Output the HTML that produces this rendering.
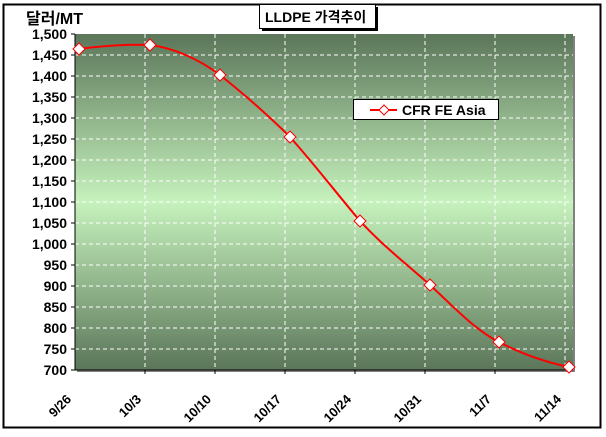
<!DOCTYPE html>
<html><head><meta charset="utf-8"><style>
body{margin:0;background:#fff;}
svg text{font-family:"Liberation Sans","Noto Sans CJK KR",sans-serif;font-weight:bold;}
</style></head><body>
<svg width="606" height="432" xmlns="http://www.w3.org/2000/svg">
<defs>
<linearGradient id="g" x1="0" y1="0" x2="0" y2="1">
<stop offset="0" stop-color="#5b7659"/>
<stop offset="0.5" stop-color="#c6f2bd"/>
<stop offset="1" stop-color="#5b7659"/>
</linearGradient>
</defs>
<rect x="3.5" y="4.5" width="597" height="423" fill="#fff" stroke="#000" stroke-width="2"/>
<rect x="77" y="36" width="498" height="336" fill="#808080"/>
<rect x="75" y="34" width="498" height="336" fill="url(#g)"/>
<g stroke="#fff" stroke-dasharray="4,3" stroke-width="1">
<line x1="75" x2="573" y1="55" y2="55"/><line x1="75" x2="573" y1="76" y2="76"/><line x1="75" x2="573" y1="97" y2="97"/><line x1="75" x2="573" y1="118" y2="118"/><line x1="75" x2="573" y1="139" y2="139"/><line x1="75" x2="573" y1="160" y2="160"/><line x1="75" x2="573" y1="181" y2="181"/><line x1="75" x2="573" y1="202" y2="202"/><line x1="75" x2="573" y1="223" y2="223"/><line x1="75" x2="573" y1="244" y2="244"/><line x1="75" x2="573" y1="265" y2="265"/><line x1="75" x2="573" y1="286" y2="286"/><line x1="75" x2="573" y1="307" y2="307"/><line x1="75" x2="573" y1="328" y2="328"/><line x1="75" x2="573" y1="349" y2="349"/>
<line y1="34" y2="370" x1="145" x2="145"/><line y1="34" y2="370" x1="215" x2="215"/><line y1="34" y2="370" x1="285" x2="285"/><line y1="34" y2="370" x1="355" x2="355"/><line y1="34" y2="370" x1="425" x2="425"/><line y1="34" y2="370" x1="495" x2="495"/><line y1="34" y2="370" x1="565" x2="565"/>
</g>
<g stroke="#000" stroke-width="1">
<line x1="75" y1="34" x2="75" y2="370"/><line x1="75" y1="370" x2="573" y2="370"/>
<line x1="71" x2="75" y1="34" y2="34"/><line x1="71" x2="75" y1="55" y2="55"/><line x1="71" x2="75" y1="76" y2="76"/><line x1="71" x2="75" y1="97" y2="97"/><line x1="71" x2="75" y1="118" y2="118"/><line x1="71" x2="75" y1="139" y2="139"/><line x1="71" x2="75" y1="160" y2="160"/><line x1="71" x2="75" y1="181" y2="181"/><line x1="71" x2="75" y1="202" y2="202"/><line x1="71" x2="75" y1="223" y2="223"/><line x1="71" x2="75" y1="244" y2="244"/><line x1="71" x2="75" y1="265" y2="265"/><line x1="71" x2="75" y1="286" y2="286"/><line x1="71" x2="75" y1="307" y2="307"/><line x1="71" x2="75" y1="328" y2="328"/><line x1="71" x2="75" y1="349" y2="349"/><line x1="71" x2="75" y1="370" y2="370"/>
<line y1="370" y2="374" x1="145" x2="145"/><line y1="370" y2="374" x1="215" x2="215"/><line y1="370" y2="374" x1="285" x2="285"/><line y1="370" y2="374" x1="355" x2="355"/><line y1="370" y2="374" x1="425" x2="425"/><line y1="370" y2="374" x1="495" x2="495"/>
</g>
<g font-size="14" text-anchor="end" fill="#000">
<text x="67" y="39">1,500</text><text x="67" y="60">1,450</text><text x="67" y="81">1,400</text><text x="67" y="102">1,350</text><text x="67" y="123">1,300</text><text x="67" y="144">1,250</text><text x="67" y="165">1,200</text><text x="67" y="186">1,150</text><text x="67" y="207">1,100</text><text x="67" y="228">1,050</text><text x="67" y="249">1,000</text><text x="67" y="270">950</text><text x="67" y="291">900</text><text x="67" y="312">850</text><text x="67" y="333">800</text><text x="67" y="354">750</text><text x="67" y="375">700</text>
</g>
<g font-size="13" text-anchor="end">
<text transform="translate(72,400) rotate(-45)">9/26</text>
<text transform="translate(142,400) rotate(-45)">10/3</text>
<text transform="translate(212,400) rotate(-45)">10/10</text>
<text transform="translate(282,400) rotate(-45)">10/17</text>
<text transform="translate(352,400) rotate(-45)">10/24</text>
<text transform="translate(422,400) rotate(-45)">10/31</text>
<text transform="translate(492,400) rotate(-45)">11/7</text>
<text transform="translate(562,400) rotate(-45)">11/14</text>
</g>
<text x="26" y="24" font-size="16">달러/MT</text>
<rect x="262" y="7" width="116" height="24" fill="#000"/>
<rect x="259.5" y="4.5" width="116" height="24" fill="#fff" stroke="#000"/>
<text x="265" y="22" font-size="14">LLDPE 가격추이</text>
<path d="M79,49 C100,46 125,44 150,45 C175,48 200,60 220,75 C245,95 268,115 290,137 C315,165 338,195 360,221 C385,248 408,265 430,285 C455,308 475,330 499,342 C520,353 545,362 569,367" fill="none" stroke="#f00" stroke-width="2"/>
<g fill="#fff" stroke="#f00" stroke-width="1">
<path d="M79,43 l6,6 l-6,6 l-6,-6z"/><path d="M150,39 l6,6 l-6,6 l-6,-6z"/><path d="M220,69 l6,6 l-6,6 l-6,-6z"/><path d="M290,131 l6,6 l-6,6 l-6,-6z"/><path d="M360,215 l6,6 l-6,6 l-6,-6z"/><path d="M430,279 l6,6 l-6,6 l-6,-6z"/><path d="M499,336 l6,6 l-6,6 l-6,-6z"/><path d="M569,361 l6,6 l-6,6 l-6,-6z"/>
</g>
<rect x="353.5" y="99.5" width="145" height="20" fill="#fff" stroke="#000"/>
<line x1="370" x2="397" y1="110" y2="110" stroke="#f00" stroke-width="2"/>
<path d="M384,105 l5,5 l-5,5 l-5,-5z" fill="#fff" stroke="#f00"/>
<text x="402" y="115" font-size="14">CFR FE Asia</text>
</svg>
</body></html>
